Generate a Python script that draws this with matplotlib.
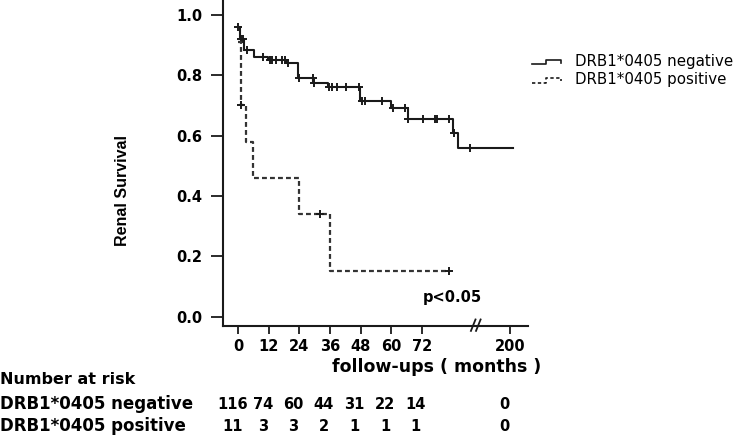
import numpy as np
import matplotlib
matplotlib.use('Agg')
from matplotlib import pyplot as plt
from matplotlib.lines import Line2D

# Kaplan-Meier steps (months, survival)
neg_times = [0, 0.7, 2.4, 6.2, 11.7, 18.7, 23.6, 29.5, 35.1, 47.8, 60.0, 66.5, 84.4, 86.1]
neg_surv = [0.96, 0.92, 0.883, 0.86, 0.85, 0.84, 0.79, 0.775, 0.76, 0.715, 0.69, 0.655, 0.61, 0.56]
neg_end = 210
neg_censor = [0, 1.0, 2.0, 3.5, 9.8, 12.4, 13.3, 15.0, 17.0, 18.3, 19.6, 24.0, 29.2, 29.8,
              35.6, 36.7, 38.6, 42.2, 47.4, 48.4, 49.7, 56.3, 60.6, 65.4, 66.7, 72.6,
              77.2, 77.9, 82.8, 84.8, 91.0]

pos_times = [0, 0.9, 3.0, 5.7, 24.0, 36.0]
pos_surv = [0.91, 0.70, 0.58, 0.46, 0.34, 0.15]
pos_end = 82.7
pos_censor = [1.2, 32.0, 82.7]

tick_months = [0, 12, 24, 36, 48, 60, 72, 200]
risk_neg = [116, 74, 60, 44, 31, 22, 14, 0]
risk_pos = [11, 3, 3, 2, 1, 1, 1, 0]
labels = ['DRB1*0405 negative', 'DRB1*0405 positive']


def to_axis(t):
    # broken x axis: everything after 96 months is squeezed so 200 fits
    t = np.asarray(t, dtype=float)
    return np.where(t <= 96, t, 96 + (t - 96) * (106.7 - 96) / (200 - 96))


def surv_at(times, surv, t):
    idx = np.searchsorted(times, t, side='right') - 1
    return np.asarray(surv)[idx]


W, H = 737, 436
fig = plt.figure(figsize=(W / 100, H / 100), dpi=100)
ax = fig.add_axes([222.7 / W, 1 - 326 / H, (528 - 222.7) / W, 326 / H])

col = '#1a1a1a'
x = to_axis(neg_times + [neg_end])
ax.step(x, neg_surv + [neg_surv[-1]], where='post', color=col, lw=1.5)
ax.plot(to_axis(neg_censor), surv_at(neg_times, neg_surv, neg_censor), '+',
        color=col, ms=6, mew=1.4)

x = to_axis(pos_times + [pos_end])
ax.step(x, pos_surv + [pos_surv[-1]], where='post', color='#333333', lw=1.6,
        linestyle=(0, (2.2, 1.4)))
ax.plot(to_axis(pos_censor), surv_at(pos_times, pos_surv, pos_censor), '+',
        color=col, ms=6, mew=1.4)

ax.set_xlim(-6.1, 113.7)
ax.set_ylim(-0.031, 1.049)
ax.spines['top'].set_visible(False)
ax.spines['right'].set_visible(False)
for s in ['left', 'bottom']:
    ax.spines[s].set_linewidth(1.5)
    ax.spines[s].set_color(col)

ax.set_yticks([0.0, 0.2, 0.4, 0.6, 0.8, 1.0])
ax.set_yticklabels(['0.0', '0.2', '0.4', '0.6', '0.8', '1.0'])
ax.set_xticks(to_axis(tick_months))
ax.set_xticklabels([str(m) for m in tick_months])
ax.tick_params(axis='y', length=8.5, width=1.3, pad=6, color=col)
ax.tick_params(axis='x', length=5.5, width=1.3, pad=4, color=col)
for lab in ax.get_xticklabels() + ax.get_yticklabels():
    lab.set_fontweight('bold')
    lab.set_fontsize(10.5)

# axis break marks
brk = ax.get_xaxis_transform()
for dx in (-1.4, 0.6):
    ax.plot([93.6 + dx - 0.9, 93.6 + dx + 0.9], [-0.015, 0.02], color=col, lw=1.3,
            transform=brk, clip_on=False)

ax.text(83.9, 0.062, 'p<0.05', ha='center', va='center', fontsize=10.5, fontweight='bold')

fig.text(123 / W, 1 - 190 / H, 'Renal Survival', rotation=90, ha='center', va='center',
         fontsize=11.5, fontweight='bold', family=['Liberation Sans', 'DejaVu Sans'])
fig.text(437 / W, 1 - 367 / H, 'follow-ups ( months )', ha='center', va='center',
         fontsize=12.5, fontweight='bold')

# legend drawn by hand to get the little step icons
for i, (lab, ls) in enumerate(zip(labels, ['-', (0, (2, 1.5))])):
    y0 = 64.5 + 18 * i
    xs = np.array([532, 546, 546, 561, 561])
    ys = np.array([y0, y0, y0 - 4.5, y0 - 4.5, y0 - 1.5])
    fig.add_artist(Line2D(xs / W, 1 - ys / H, color=col, lw=1.2, linestyle=ls))
    fig.text(575 / W, 1 - (y0 - 3) / H, lab, ha='left', va='center', fontsize=10.8)

# number at risk table
fig.text(0.0, 1 - 379 / H, 'Number at risk', ha='left', va='center', fontsize=11.5,
         fontweight='bold')
for row, (lab, vals) in enumerate(zip(labels, [risk_neg, risk_pos])):
    yy = 1 - (404 + 22 * row) / H
    fig.text(0.0, yy, lab, ha='left', va='center', fontsize=12, fontweight='bold')
    for m, v in zip(tick_months, vals):
        xf = ax.transData.transform((to_axis(m), 0))[0] / W
        fig.text(xf - 6 / W, yy, str(v), ha='center', va='center', fontsize=10.5,
                 fontweight='bold')

plt.savefig('out.png', dpi=100)
